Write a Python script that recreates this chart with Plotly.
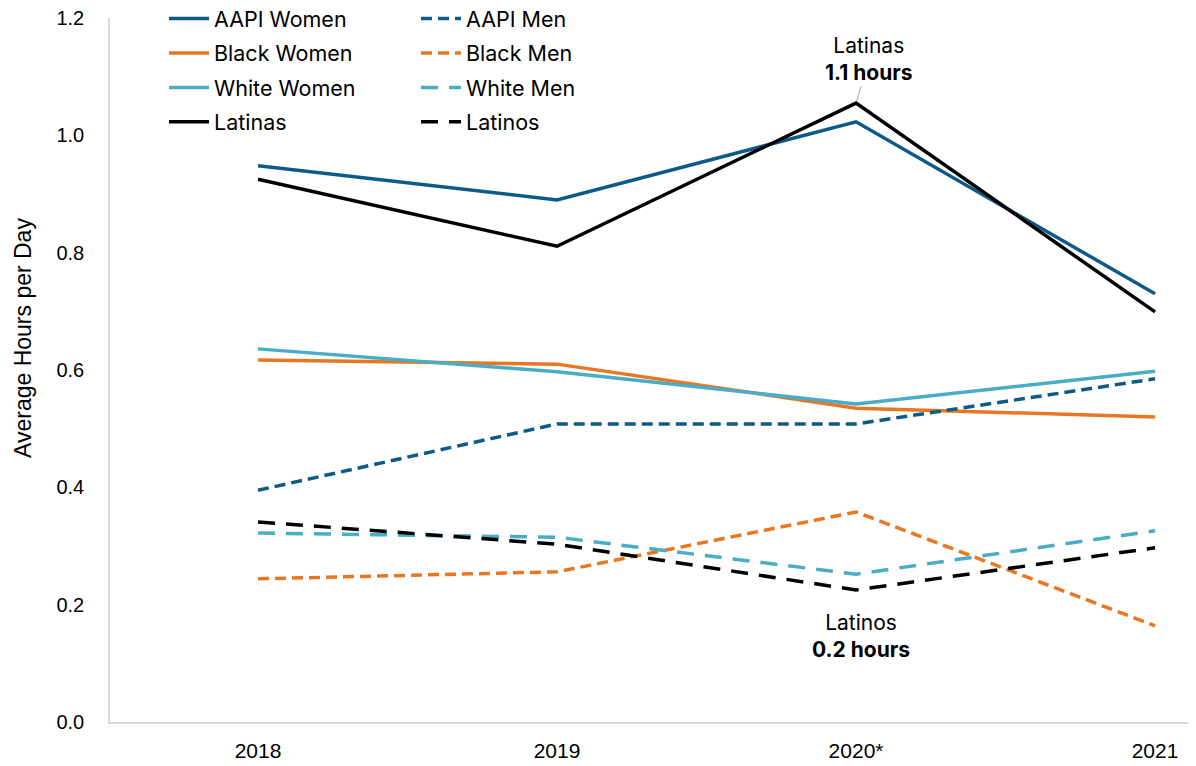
import plotly.graph_objects as go

years = ["2018", "2019", "2020*", "2021"]

aapi_women = [0.948, 0.890, 1.023, 0.730]
black_women = [0.617, 0.610, 0.535, 0.520]
white_women = [0.636, 0.597, 0.542, 0.598]
latinas = [0.925, 0.811, 1.055, 0.699]

aapi_men = [0.395, 0.508, 0.508, 0.585]
black_men = [0.244, 0.256, 0.358, 0.164]
white_men = [0.322, 0.315, 0.252, 0.326]
latinos = [0.341, 0.303, 0.225, 0.297]

DARK = "#0e5a87"
ORANGE = "#e87722"
LIGHT = "#4bacc6"
BLACK = "#000000"

fig = go.Figure()

# women: solid lines in left legend column
for name, vals, col in [
    ("AAPI Women", aapi_women, DARK),
    ("Black Women", black_women, ORANGE),
    ("White Women", white_women, LIGHT),
    ("Latinas", latinas, BLACK),
]:
    fig.add_trace(go.Scatter(
        x=years, y=vals, name=name, mode="lines",
        line=dict(color=col, width=3.5),
        legend="legend", legendgroup=name,
    ))

# men: dashed lines in right legend column
for name, vals, col, dash in [
    ("AAPI Men", aapi_men, DARK, "11px,6px"),
    ("Black Men", black_men, ORANGE, "11px,6px"),
    ("White Men", white_men, LIGHT, "17px,11px"),
    ("Latinos", latinos, BLACK, "17px,11px"),
]:
    fig.add_trace(go.Scatter(
        x=years, y=vals, name=name, mode="lines",
        line=dict(color=col, width=3.5, dash=dash),
        legend="legend2", legendgroup=name,
    ))

# page body has an 8px margin, so figure is 8px smaller and sits at (8, 8)
# target plot area in the screenshot: x 110..1196, y 18..722
legend_common = dict(
    xref="paper", yref="paper",
    yanchor="top", xanchor="left",
    bgcolor="rgba(0,0,0,0)",
    font=dict(family="Inter, Noto Sans, sans-serif", size=21.5, color="#000"),
    tracegroupgap=3.5,
    itemwidth=40,
)

SANS = "Liberation Sans, Arial, sans-serif"

fig.update_layout(
    width=1188, height=758,
    paper_bgcolor="white", plot_bgcolor="white",
    margin=dict(l=102, r=0, t=10, b=44, autoexpand=False),
    showlegend=True,
    legend=dict(x=(164 - 110) / 1086, y=1 + 20 / 704, **legend_common),
    legend2=dict(x=(416 - 110) / 1086, y=1 + 20 / 704, **legend_common),
    xaxis=dict(
        type="category",
        range=[-0.495, 3.137],
        showgrid=False, zeroline=False,
        showline=True, linecolor="#d9d9d9", linewidth=1.5,
        ticks="", ticklabelstandoff=9, ticklabeloverflow="allow",
        tickfont=dict(family=SANS, size=21, color="#000"),
    ),
    yaxis=dict(
        range=[0, 1.2],
        tickvals=[0, 0.2, 0.4, 0.6, 0.8, 1.0, 1.2],
        tickformat=".1f",
        showgrid=False, zeroline=False,
        showline=True, linecolor="#d9d9d9", linewidth=1.5,
        ticks="", ticklabelstandoff=20, ticklabeloverflow="allow",
        tickfont=dict(family=SANS, size=20, color="#000"),
    ),
)

# y-axis title, placed as in the reference (a little above centre)
fig.add_annotation(
    x=(23 - 110) / 1086, y=(722 - 338) / 704, xref="paper", yref="paper",
    xanchor="center", yanchor="middle",
    text="Average Hours per Day", textangle=-90, showarrow=False,
    font=dict(family=SANS, size=23, color="#000"),
)

fig.add_annotation(
    x=2, y=latinas[2], xref="x", yref="y",
    text="Latinas<br><b>1.1 hours</b>",
    showarrow=True, arrowhead=0, arrowcolor="#a6a6a6", arrowwidth=1,
    ax=13, ay=-44, standoff=2,
    font=dict(family="Inter, Noto Sans, sans-serif", size=21, color="#000"),
    align="center",
)
fig.add_annotation(
    x=2, y=latinos[2], xref="x", yref="y",
    text="Latinos<br><b>0.2 hours</b>",
    showarrow=False, xshift=5, yshift=-46,
    font=dict(family="Inter, Noto Sans, sans-serif", size=21, color="#000"),
    align="center",
)

fig.write_html("out.html")
